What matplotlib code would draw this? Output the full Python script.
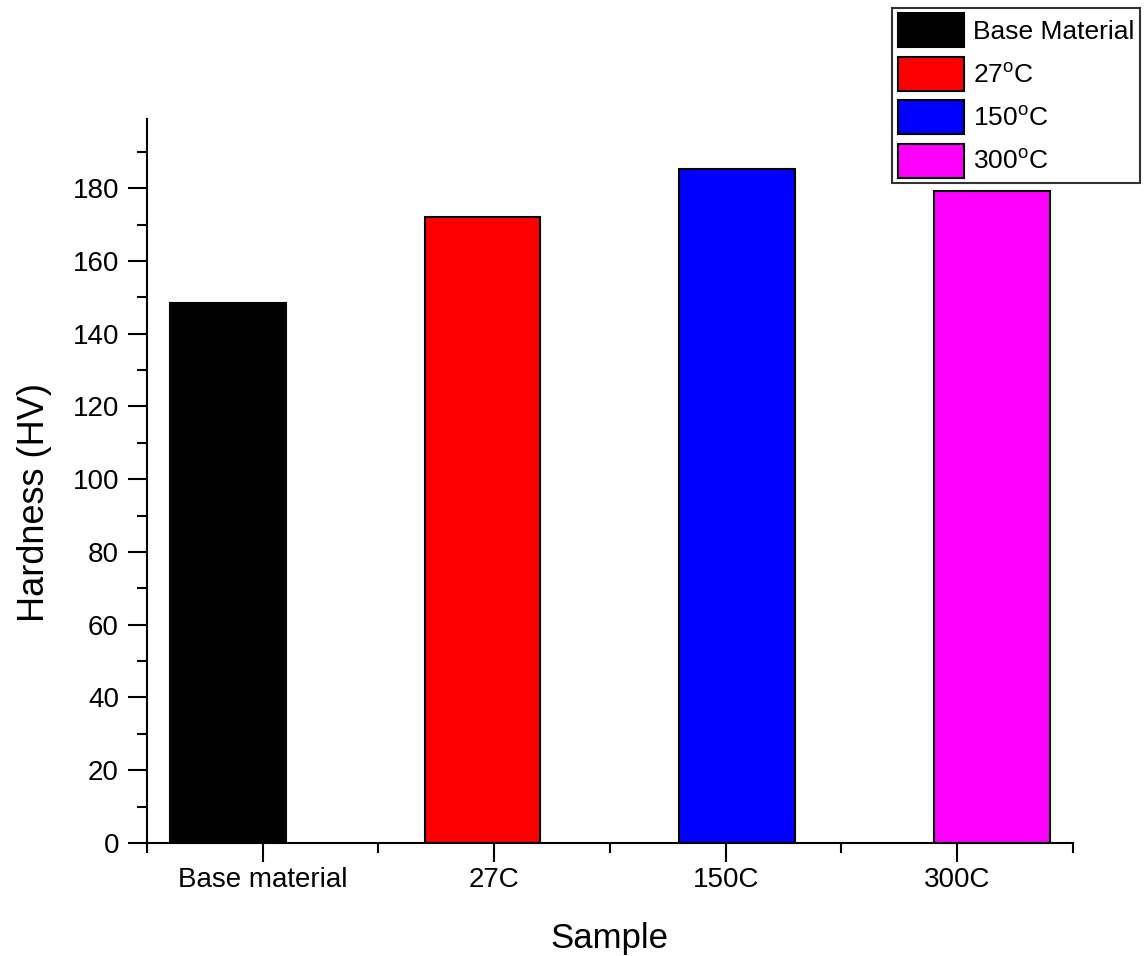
import matplotlib.pyplot as plt
from matplotlib.ticker import MultipleLocator

# values
samples = ['Base material', '27C', '150C', '300C']
legend_labels = ['Base Material', '27$^{\\mathrm{o}}$C', '150$^{\\mathrm{o}}$C', '300$^{\\mathrm{o}}$C']
hardness = [148.3, 172.0, 185.3, 179.2]
colors = ['#000000', '#ff0000', '#0000ff', '#ff00ff']

plt.rcParams['font.family'] = ['Liberation Sans', 'DejaVu Sans']
plt.rcParams['mathtext.fontset'] = 'custom'
plt.rcParams['mathtext.rm'] = 'Liberation Sans'

fig = plt.figure(figsize=(11.48, 9.56), dpi=100)
ax = fig.add_axes([0.1278, 0.1182, 0.8069, 0.7573])

# Origin-style grouped bars: each series shifted a bit from its tick
pos = list(range(1, len(samples) + 1))
offsets = [(i - 1.5) * 0.1 for i in range(len(samples))]
for p, off, h, c, lab in zip(pos, offsets, hardness, colors, legend_labels):
    ax.bar(p + off, h, width=0.5, color=c, edgecolor='black', linewidth=1.5, label=lab)

ax.set_xlim(0.5, 4.5)
ax.set_ylim(0, 199)
ax.set_xticks(pos)
ax.set_xticklabels(samples, fontsize=20)
ax.xaxis.set_minor_locator(plt.FixedLocator([0.5, 1.5, 2.5, 3.5, 4.5]))
ax.yaxis.set_major_locator(MultipleLocator(20))
ax.yaxis.set_minor_locator(MultipleLocator(10))
ax.tick_params(axis='y', labelsize=20, pad=6)
ax.tick_params(which='major', length=14, width=1.5, direction='out')
ax.tick_params(which='minor', length=7, width=1.5, direction='out')

for s in ['top', 'right']:
    ax.spines[s].set_visible(False)
for s in ['left', 'bottom']:
    ax.spines[s].set_linewidth(1.5)

ax.set_xlabel('Sample', fontsize=25, labelpad=21)
ax.set_ylabel('Hardness (HV)', fontsize=26, labelpad=18)
ax.yaxis.set_label_coords(-0.102, 0.47)

leg = fig.legend(loc='upper right', bbox_to_anchor=(0.993, 0.992),
                 bbox_transform=fig.transFigure, fontsize=19, frameon=True,
                 fancybox=False, borderaxespad=0, handlelength=2.5,
                 handleheight=1.6, labelspacing=0.36, handletextpad=0.35,
                 borderpad=0.22)
leg.get_frame().set_edgecolor('black')
leg.get_frame().set_linewidth(1.5)

fig.savefig('out.png', dpi=100)
